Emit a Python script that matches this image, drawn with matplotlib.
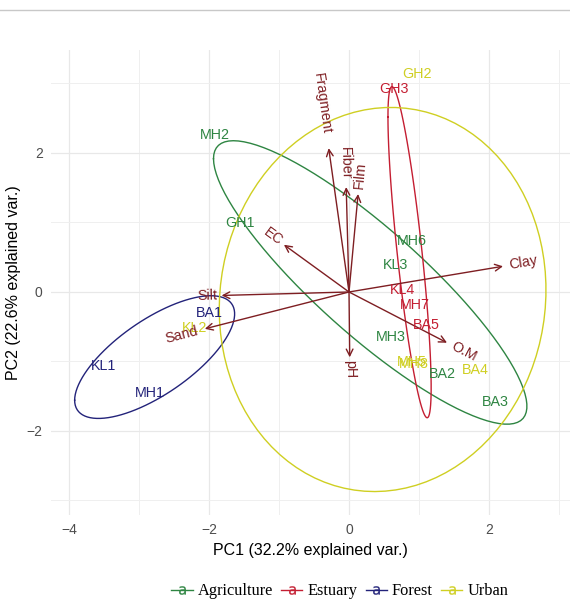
import numpy as np
import matplotlib
matplotlib.use("Agg")
import matplotlib.pyplot as plt
from matplotlib.lines import Line2D
from matplotlib.textpath import TextPath
from matplotlib.font_manager import FontProperties

plt.rcParams['font.family'] = ['Liberation Sans', 'DejaVu Sans']

# PCA scores
samples = ['MH2', 'GH1', 'MH6', 'KL3', 'MH3', 'BA2', 'BA3',
           'GH3', 'KL4', 'MH7', 'BA5',
           'KL1', 'MH1', 'BA1',
           'GH2', 'KL2', 'MH5', 'MH8', 'BA4']
groups = ['Agriculture'] * 7 + ['Estuary'] * 4 + ['Forest'] * 3 + ['Urban'] * 5
pc1 = [-1.91, -1.56, 0.90, 0.67, 0.60, 1.33, 2.09,
       0.64, 0.77, 0.94, 1.11,
       -3.50, -2.84, -1.99,
       0.97, -2.20, 0.90, 0.92, 1.81]
pc2 = [2.26, 0.99, 0.73, 0.39, -0.65, -1.18, -1.58,
       2.92, 0.03, -0.19, -0.47,
       -1.06, -1.45, -0.30,
       3.14, -0.52, -1.01, -1.03, -1.12]

# variable loadings
variables = ['Clay', 'Silt', 'Sand', 'EC', 'Fragment', 'Fiber', 'Film', 'O.M', 'pH']
load1 = [2.20, -1.82, -2.06, -0.93, -0.29, -0.04, 0.13, 1.40, 0.01]
load2 = [0.37, -0.05, -0.53, 0.68, 2.07, 1.51, 1.41, -0.73, -0.94]

group_names = ['Agriculture', 'Estuary', 'Forest', 'Urban']
colors = {'Agriculture': '#2E8542', 'Estuary': '#C41E32',
          'Forest': '#23237A', 'Urban': '#CFCF22'}
arrow_col = '#7E1E22'

fig = plt.figure(figsize=(5.70, 6.01), dpi=100)
ax = fig.add_axes([0.0895, 0.1431, 0.9105, 0.7737])

# thin separator line at top of image
fig.add_artist(Line2D([0, 1], [0.983, 0.983], color='#C8C8C8', lw=1))

# grid like theme_minimal
for v in [-4, -2, 0, 2]:
    ax.axvline(v, color='#E8E8E8', lw=0.9, zorder=0)
for v in [-3, -1, 1, 3]:
    ax.axvline(v, color='#EFEFEF', lw=0.7, zorder=0)
for v in [-2, 0, 2]:
    ax.axhline(v, color='#E8E8E8', lw=0.9, zorder=0)
for v in [-3, -1, 1, 3]:
    ax.axhline(v, color='#EFEFEF', lw=0.7, zorder=0)

# arrows
for name, x, y in zip(variables, load1, load2):
    ax.annotate('', xy=(x, y), xytext=(0, 0),
                arrowprops=dict(arrowstyle='->', color=arrow_col, lw=1.0,
                                mutation_scale=12, shrinkA=0, shrinkB=0))

# sample labels
pc1 = np.array(pc1)
pc2 = np.array(pc2)
groups = np.array(groups)
for s, x, y, g in zip(samples, pc1, pc2, groups):
    ax.text(x, y, s, color=colors[g], fontsize=10.3, ha='center', va='center')

# normal data ellipses (68%), as ggbiplot
ed = np.sqrt(-2 * np.log(1 - 0.68))
theta = np.linspace(-np.pi, np.pi, 100)
circle = np.column_stack([np.cos(theta), np.sin(theta)])
for g in group_names:
    m = groups == g
    xy = np.column_stack([pc1[m], pc2[m]])
    sigma = np.cov(xy.T)
    R = np.linalg.cholesky(sigma).T
    ell = circle @ R * ed + xy.mean(axis=0)
    ax.plot(ell[:, 0], ell[:, 1], color=colors[g], lw=1.0)

# variable names
fp = FontProperties(family='Liberation Sans', size=10.3)
for name, x, y in zip(variables, load1, load2):
    ang = np.degrees(np.arctan(y / x))
    hj = 0.5 * (1 - 1.5 * np.sign(x))
    w = TextPath((0, 0), name, prop=fp).get_extents().width
    off = (0.5 - hj) * w
    dx = off * np.cos(np.radians(ang))
    dy = off * np.sin(np.radians(ang))
    ax.annotate(name, xy=(x, y), xytext=(dx, dy), textcoords='offset points',
                ha='center', va='center', rotation=ang, rotation_mode='anchor',
                color=arrow_col, fontsize=10.3)

ax.set_xlim(-4.257, 3.157)
ax.set_ylim(-3.209, 3.482)
ax.set_xticks([-4, -2, 0, 2])
ax.set_yticks([-2, 0, 2])
ax.tick_params(length=0, labelsize=10, labelcolor='#4D4D4D', pad=6)
for sp in ax.spines.values():
    sp.set_visible(False)
ax.set_xlabel('PC1 (32.2% explained var.)', fontsize=11.5, labelpad=4)
ax.set_ylabel('PC2 (22.6% explained var.)', fontsize=11.5, labelpad=4)

handles = [Line2D([], [], color=colors[g], lw=1, marker=r'$\mathsf{a}$',
                  markersize=6, markeredgewidth=0.2) for g in group_names]
fig.legend(handles, group_names, loc='center', bbox_to_anchor=(0.596, 0.016),
           ncol=4, frameon=False, handlelength=1.3, handletextpad=0.3,
           columnspacing=0.5, prop=FontProperties(family='Liberation Serif', size=11.8))

fig.savefig('out.png', dpi=100)
